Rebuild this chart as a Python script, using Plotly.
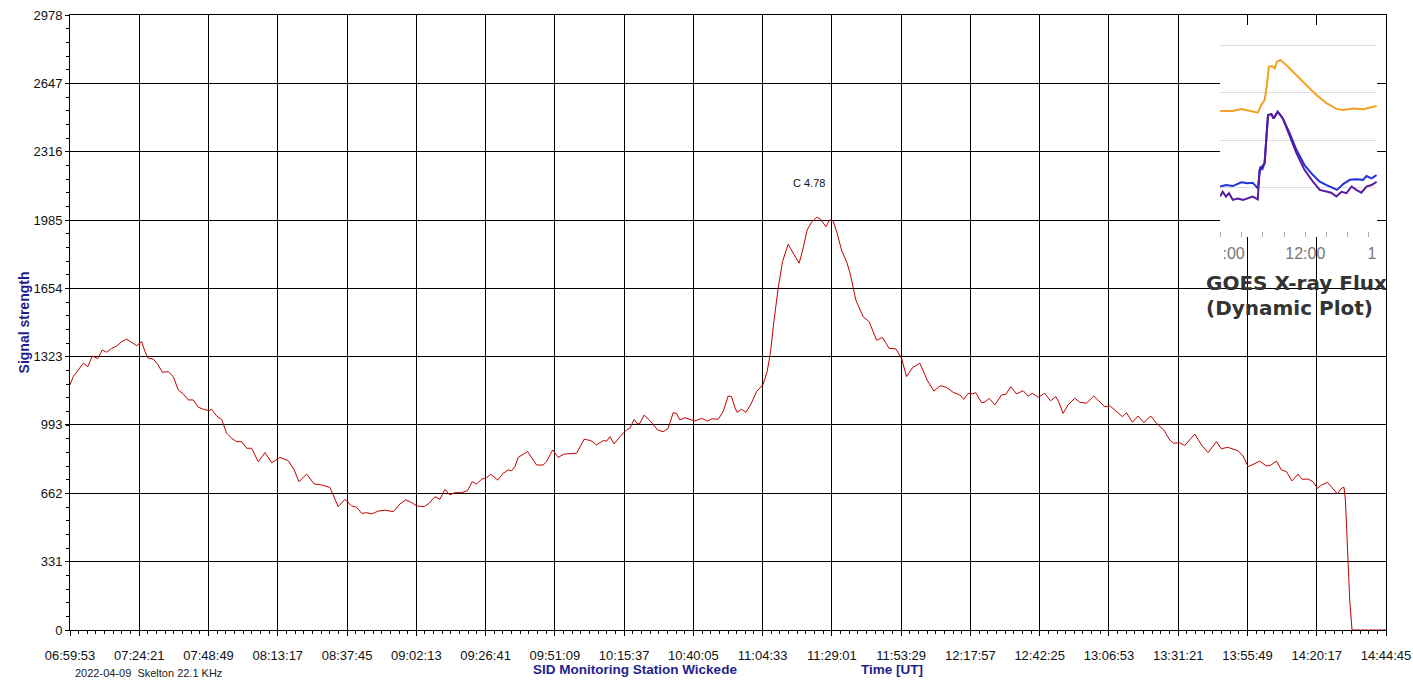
import plotly.graph_objects as go

day = "2022-04-09 "

# SID receiver signal (Skelton 22.1 kHz)
times = [
    "06:59:53", "07:01:03", "07:02:49", "07:04:35", "07:06:08", "07:07:46", "07:09:40", "07:11:17", "07:12:51", "07:14:37",
    "07:16:23", "07:18:08", "07:19:55", "07:21:40", "07:23:26", "07:25:12", "07:26:22", "07:27:32", "07:29:18", "07:31:04",
    "07:32:29", "07:34:36", "07:36:22", "07:38:08", "07:39:54", "07:41:40", "07:43:26", "07:45:12", "07:46:58", "07:48:58",
    "07:49:56", "07:51:42", "07:53:27", "07:55:13", "07:56:59", "07:58:45", "08:00:31", "08:02:17", "08:04:03", "08:06:23",
    "08:08:45", "08:11:07", "08:14:03", "08:16:59", "08:19:06", "08:20:45", "08:23:29", "08:26:10", "08:28:46", "08:31:42",
    "08:33:14", "08:34:38", "08:37:00", "08:39:22", "08:41:08", "08:42:54", "08:44:40", "08:46:26", "08:48:46", "08:51:08",
    "08:54:04", "08:56:26", "08:58:27", "09:00:34", "09:02:20", "09:05:01", "09:06:47", "09:08:47", "09:10:33", "09:12:19",
    "09:14:05", "09:15:51", "09:18:13", "09:20:20", "09:21:58", "09:23:31", "09:25:17", "09:27:03", "09:28:34", "09:30:56",
    "09:32:55", "09:34:41", "09:35:53", "09:37:03", "09:38:13", "09:41:32", "09:44:42", "09:47:02", "09:48:14", "09:50:21",
    "09:52:20", "09:54:27", "09:58:50", "10:01:31", "10:03:53", "10:05:54", "10:08:14", "10:09:26", "10:10:36", "10:12:07",
    "10:14:08", "10:16:30", "10:17:39", "10:19:10", "10:20:22", "10:21:11", "10:22:42", "10:25:04", "10:27:26", "10:29:25",
    "10:31:11", "10:32:57", "10:34:09", "10:35:19", "10:37:05", "10:38:51", "10:40:37", "10:42:59", "10:45:06", "10:46:43",
    "10:48:50", "10:50:36", "10:52:22", "10:53:34", "10:54:44", "10:55:33", "10:57:06", "10:58:37", "11:00:17", "11:02:24",
    "11:04:44", "11:06:09", "11:07:21", "11:08:31", "11:10:02", "11:11:35", "11:13:34", "11:15:35", "11:17:27", "11:18:52",
    "11:20:16", "11:21:50", "11:23:36", "11:25:00", "11:26:53", "11:28:17", "11:29:27", "11:30:52", "11:32:25", "11:34:24",
    "11:35:36", "11:37:28", "11:40:03", "11:42:10", "11:44:47", "11:46:54", "11:49:14", "11:51:36", "11:53:37", "11:55:23",
    "11:57:30", "12:00:05", "12:02:39", "12:05:01", "12:07:23", "12:09:30", "12:11:50", "12:14:12", "12:15:37", "12:17:08",
    "12:18:41", "12:19:51", "12:21:52", "12:23:02", "12:24:33", "12:26:34", "12:28:56", "12:30:27", "12:32:13", "12:34:14",
    "12:36:33", "12:38:19", "12:39:53", "12:41:51", "12:44:13", "12:46:14", "12:48:06", "12:49:16", "12:50:41", "12:52:27",
    "12:54:49", "12:56:35", "12:58:57", "13:01:32", "13:03:24", "13:05:25", "13:07:11", "13:08:57", "13:11:40", "13:13:04",
    "13:15:11", "13:17:10", "13:19:11", "13:21:39", "13:23:40", "13:26:15", "13:28:22", "13:29:47", "13:31:54", "13:33:40",
    "13:37:12", "13:39:34", "13:41:54", "13:44:52", "13:46:38", "13:48:45", "13:50:43", "13:52:29", "13:54:15", "13:56:01",
    "13:58:08", "14:00:09", "14:02:31", "14:04:02", "14:06:03", "14:07:49", "14:09:35", "14:11:34", "14:13:41", "14:15:05",
    "14:17:13", "14:18:59", "14:20:32", "14:21:56", "14:24:04", "14:26:02", "14:27:36", "14:29:00", "14:29:55", "14:30:25",
    "14:31:07", "14:31:56", "14:32:45", "14:44:45",
]
signal = [
    1187, 1227, 1259, 1292, 1275, 1327, 1314, 1356, 1345, 1364,
    1375, 1396, 1408, 1391, 1377, 1396, 1348, 1316, 1312, 1283,
    1248, 1251, 1227, 1162, 1143, 1114, 1114, 1079, 1069, 1062,
    1069, 1036, 1020, 953, 928, 912, 912, 880, 880, 815,
    859, 810, 836, 820, 775, 718, 755, 707, 702, 691,
    646, 597, 633, 601, 594, 565, 568, 562, 576, 580,
    573, 610, 630, 617, 601, 597, 614, 646, 633, 681,
    654, 665, 665, 675, 718, 707, 730, 738, 754, 726,
    759, 775, 771, 791, 836, 864, 799, 799, 815, 872,
    836, 852, 856, 924, 917, 896, 917, 915, 936, 901,
    936, 969, 977, 1020, 998, 1001, 1041, 1009, 969, 960,
    977, 1052, 1049, 1017, 1028, 1020, 1012, 1025, 1012, 1023,
    1020, 1057, 1133, 1130, 1078, 1054, 1069, 1054, 1090, 1154,
    1190, 1251, 1348, 1493, 1655, 1784, 1868, 1819, 1776, 1849,
    1937, 1974, 1999, 1990, 1953, 1986, 1981, 1921, 1840, 1776,
    1719, 1598, 1517, 1493, 1404, 1416, 1364, 1361, 1316, 1227,
    1270, 1292, 1211, 1157, 1183, 1175, 1151, 1138, 1117, 1146,
    1143, 1149, 1101, 1103, 1122, 1090, 1138, 1141, 1178, 1143,
    1159, 1133, 1146, 1127, 1146, 1110, 1130, 1101, 1049, 1090,
    1122, 1103, 1098, 1133, 1106, 1081, 1086, 1065, 1033, 1052,
    1006, 1036, 1004, 1036, 1001, 969, 920, 904, 907, 893,
    949, 896, 859, 912, 877, 885, 875, 868, 843, 791,
    804, 818, 794, 798, 818, 775, 767, 722, 755, 730,
    731, 718, 686, 702, 715, 681, 659, 686, 691, 630,
    387, 145, 0, 0,
]

x_tick_labels = [
    "06:59:53", "07:24:21", "07:48:49", "08:13:17", "08:37:45", "09:02:13", "09:26:41",
    "09:51:09", "10:15:37", "10:40:05", "11:04:33", "11:29:01", "11:53:29", "12:17:57",
    "12:42:25", "13:06:53", "13:31:21", "13:55:49", "14:20:17", "14:44:45",
]
y_tick_labels = ["0", "331", "662", "993", "1323", "1654", "1985", "2316", "2647", "2978"]

flare_time = "11:20:52"
flare_level = 2165
flare_label = "C 4.78"

# GOES X-ray flux inset (hours UT, log10 W/m^2)
goes_long_hours = [9.99, 10.29, 10.49, 10.68, 10.88, 10.96, 11.04, 11.09, 11.14, 11.22, 11.28, 11.33,
                   11.41, 11.55, 11.79, 12.02, 12.26, 12.50, 12.73, 12.89, 13.12, 13.36, 13.56, 13.68]
goes_long_log = [-6.385, -6.385, -6.343, -6.385, -6.42, -6.26, -6.154, -5.875, -5.455, -5.44, -5.49, -5.35,
                 -5.315, -5.42, -5.63, -5.84, -6.05, -6.22, -6.34, -6.364, -6.33, -6.35, -6.31, -6.28]
goes_short_hours = [9.99, 10.13, 10.29, 10.49, 10.64, 10.76, 10.88, 10.94, 10.98, 11.04, 11.12, 11.20, 11.25,
                    11.35, 11.47, 11.63, 11.79, 11.98, 12.18, 12.34, 12.50, 12.65, 12.75, 12.89, 13.05, 13.20,
                    13.36, 13.44, 13.56, 13.68]
goes_short_log = [-7.97, -7.94, -7.96, -7.88, -7.90, -7.89, -8.01, -7.55, -7.62, -7.48, -6.47, -6.45, -6.54,
                  -6.40, -6.54, -6.85, -7.20, -7.52, -7.73, -7.87, -7.94, -7.99, -8.04, -7.92, -7.83, -7.82,
                  -7.83, -7.75, -7.80, -7.73]
goes_short2_hours = [9.99, 10.05, 10.13, 10.20, 10.29, 10.41, 10.53, 10.64, 10.76, 10.88, 10.92, 10.98, 11.04,
                     11.12, 11.20, 11.25, 11.35, 11.47, 11.63, 11.79, 11.98, 12.18, 12.34, 12.50, 12.61, 12.73,
                     12.85, 12.97, 13.09, 13.20, 13.32, 13.44, 13.56, 13.68]
goes_short2_log = [-8.18, -8.08, -8.18, -8.11, -8.25, -8.22, -8.25, -8.22, -8.18, -8.24, -7.62, -7.55, -7.48,
                   -6.47, -6.45, -6.54, -6.40, -6.54, -6.92, -7.27, -7.62, -7.87, -8.04, -8.08, -8.10, -8.18,
                   -8.08, -8.11, -7.97, -8.04, -8.10, -7.97, -7.94, -7.87]
goes_tick_hours = [10.31, 12.0, 13.57]
goes_tick_labels = [":00", "12:00", "1"]

navy = "#1f1f8c"
font = "Liberation Sans, Arial, sans-serif"

fig = go.Figure()

fig.add_trace(go.Scatter(
    x=[day + t for t in times], y=signal, mode="lines",
    line=dict(color="#c00000", width=1), showlegend=False, xaxis="x", yaxis="y",
))

for hrs, vals, col in [
    (goes_long_hours, goes_long_log, "#f2a124"),
    (goes_short_hours, goes_short_log, "#2233dd"),
    (goes_short2_hours, goes_short2_log, "#5a1a9e"),
]:
    fig.add_trace(go.Scatter(
        x=hrs, y=[10 ** v for v in vals], mode="lines",
        line=dict(color=col, width=2), showlegend=False, xaxis="x2", yaxis="y2",
    ))

y_vals = [int(v) for v in y_tick_labels]
y_top = y_vals[-1]

fig.update_layout(
    width=1413, height=684,
    margin=dict(l=70, r=27, t=15, b=54),
    paper_bgcolor="white", plot_bgcolor="white",
    font=dict(family=font, size=12, color="#111"),
    xaxis=dict(
        type="date", domain=[0, 1], automargin=False,
        range=[day + x_tick_labels[0], day + x_tick_labels[-1]],
        tickmode="array", tickvals=[day + t for t in x_tick_labels], ticktext=x_tick_labels,
        showgrid=True, gridcolor="black", gridwidth=1, zeroline=False,
        showline=True, mirror=True, linecolor="black", linewidth=1,
        ticks="outside", ticklen=5, tickcolor="black",
        minor=dict(ticks="outside", ticklen=3, tickcolor="black", showgrid=False,
                   tick0=day + x_tick_labels[0], dtick=183500),
        tickfont=dict(family=font, size=13, color="#111"),
        ticklabelstandoff=8,
    ),
    yaxis=dict(
        range=[0, y_top], domain=[0, 1], automargin=False,
        tickmode="array", tickvals=y_vals, ticktext=y_tick_labels,
        showgrid=True, gridcolor="black", gridwidth=1, zeroline=False,
        showline=True, mirror=True, linecolor="black", linewidth=1,
        ticks="outside", ticklen=4, tickcolor="black",
        minor=dict(ticks="outside", ticklen=3, tickcolor="black", showgrid=False,
                   tickvals=[k * y_top / 45 for k in range(46)]),
        tickfont=dict(family=font, size=13, color="#111"),
    ),
    xaxis2=dict(
        domain=[0.8739, 0.9932], anchor="y2", range=[9.99, 13.69], automargin=False,
        showgrid=False, zeroline=False, showline=False,
        tickmode="array", tickvals=goes_tick_hours, ticktext=goes_tick_labels, ticks="",
        minor=dict(ticks="inside", ticklen=5, tickcolor="#aaaaaa", showgrid=False,
                   tickvals=[10 + 0.5 * k for k in range(8)]),
        tickfont=dict(family=font, size=16, color="#777777"),
        ticklabelstandoff=5,
    ),
    yaxis2=dict(
        domain=[0.639, 0.9837], anchor="x2", type="log", range=[-9.03, -4.58], automargin=False,
        tickvals=[1e-8, 1e-7, 1e-6, 1e-5], showticklabels=False, ticks="",
        showgrid=True, gridcolor="#dddddd", gridwidth=1, zeroline=False, showline=False,
    ),
)

# white backing of the GOES inset
fig.add_shape(type="rect", xref="x2 domain", yref="y2 domain",
              x0=-0.005, x1=1.0, y0=-0.217, y1=1.01,
              fillcolor="white", line=dict(width=0), layer="below")

fig.add_annotation(x=day + flare_time, y=flare_level, text=flare_label, showarrow=False,
                   font=dict(family=font, size=11, color="#111"))

fig.add_annotation(xref="paper", yref="paper", x=0.8617, y=0.5642, xanchor="left", yanchor="middle",
                   text="<b>GOES X-ray Flux</b>", showarrow=False,
                   font=dict(family="DejaVu Sans", size=20, color="#333333"))
fig.add_annotation(xref="paper", yref="paper", x=0.8617, y=0.5236, xanchor="left", yanchor="middle",
                   text="<b>(Dynamic Plot)</b>", showarrow=False,
                   font=dict(family="DejaVu Sans", size=20, color="#333333"))

fig.add_annotation(xref="paper", yref="paper", x=-0.0350, y=0.5, xanchor="center", yanchor="middle",
                   textangle=-90, text="<b>Signal strength</b>", showarrow=False,
                   font=dict(family=font, size=14, color=navy))
fig.add_annotation(xref="paper", yref="paper", x=0.0023, y=-0.0699, xanchor="left", yanchor="middle",
                   text="2022-04-09  Skelton 22.1 KHz", showarrow=False,
                   font=dict(family=font, size=11, color="#222"))
fig.add_annotation(xref="paper", yref="paper", x=0.4293, y=-0.065, xanchor="center", yanchor="middle",
                   text="<b>SID Monitoring Station Wickede</b>", showarrow=False,
                   font=dict(family=font, size=13.5, color=navy))
fig.add_annotation(xref="paper", yref="paper", x=0.6246, y=-0.065, xanchor="center", yanchor="middle",
                   text="<b>Time [UT]</b>", showarrow=False,
                   font=dict(family=font, size=13.5, color=navy))

fig.write_html(
    "out.html",
    config={"displayModeBar": False},
    post_script="document.body.style.margin='0';document.body.style.overflow='hidden';",
)
